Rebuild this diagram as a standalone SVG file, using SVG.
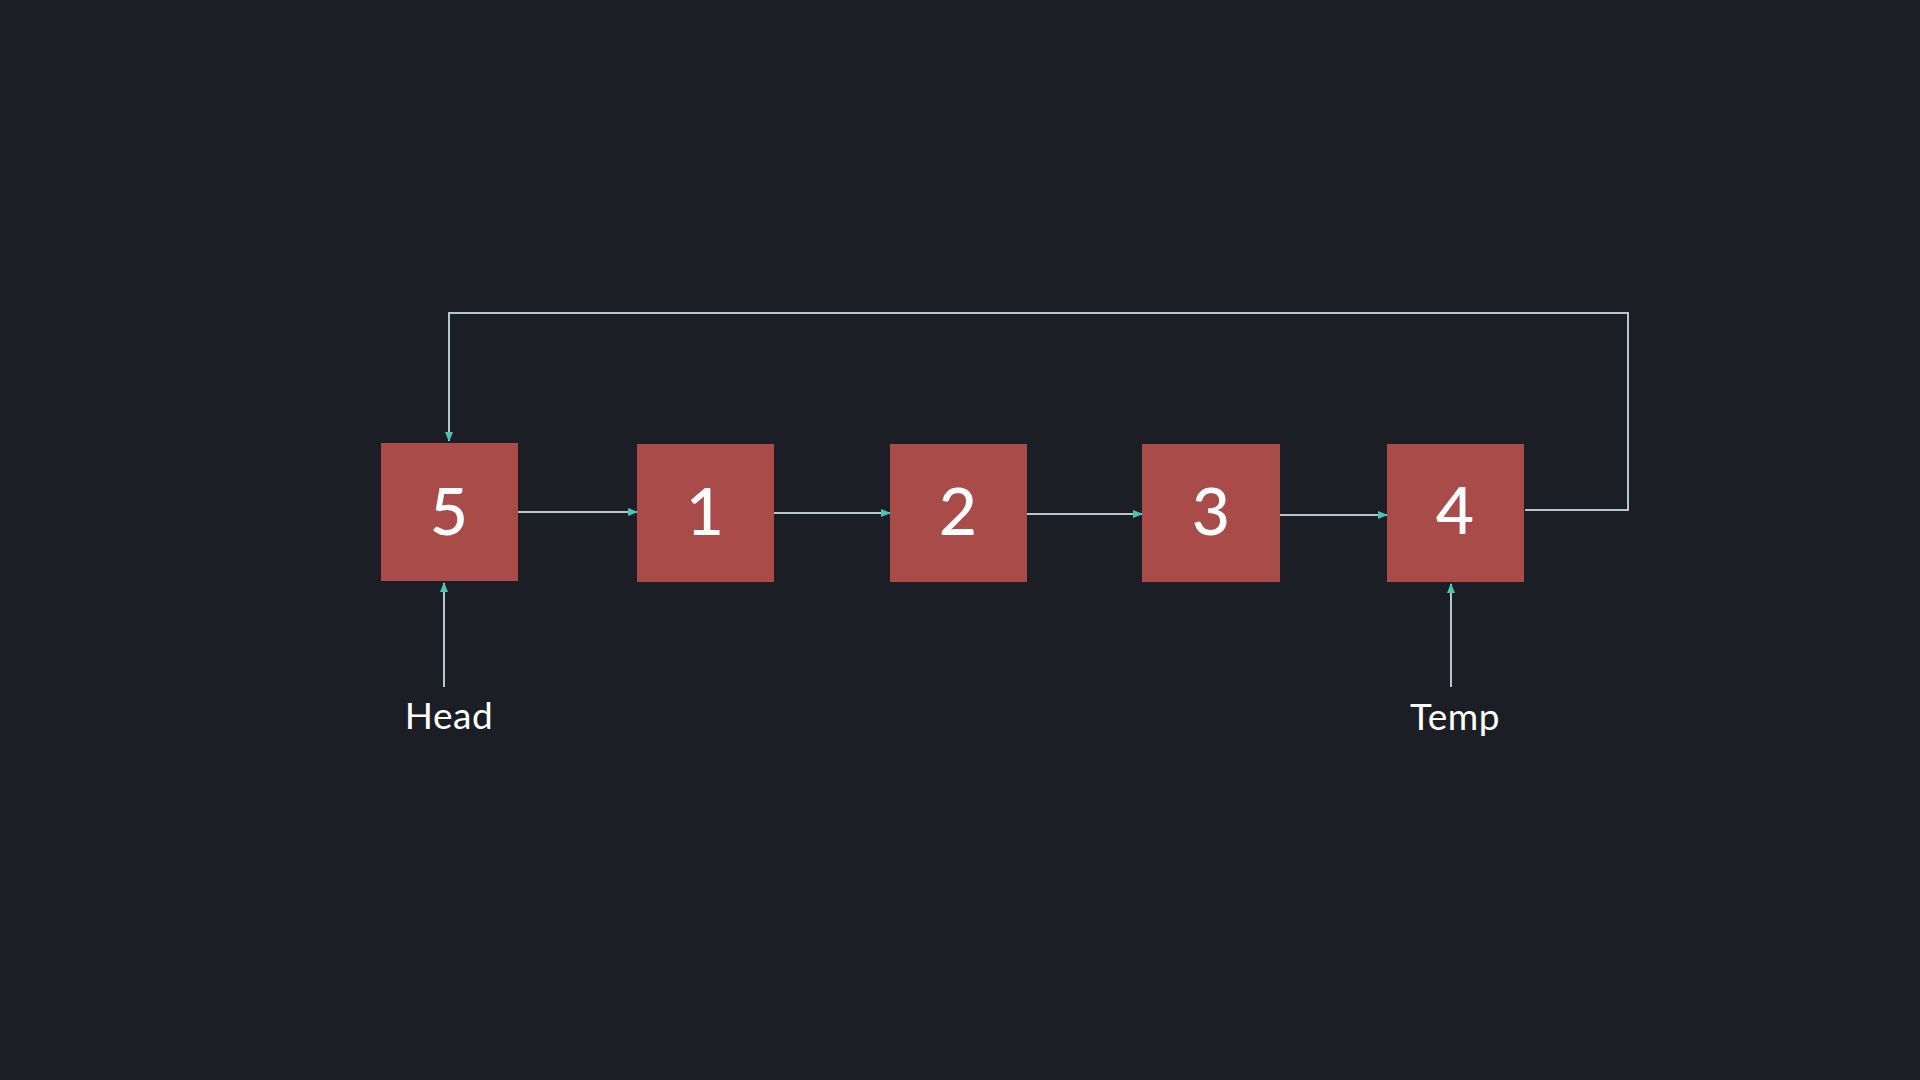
<svg xmlns="http://www.w3.org/2000/svg" width="1920" height="1080" viewBox="0 0 1920 1080">
<defs>
<marker id="arr" markerWidth="10" markerHeight="8" refX="9" refY="4" orient="auto" markerUnits="userSpaceOnUse">
<path d="M0,0 L10,4 L0,8 Z" fill="#4fc1b3"/>
</marker>
<style>
.box{fill:#a94c49;}
.num{font-family:Lato,"Open Sans",sans-serif;font-size:66px;fill:#ffffff;text-anchor:middle;font-weight:500;}
.lbl{font-family:Lato,"Open Sans",sans-serif;font-size:37px;fill:#ffffff;text-anchor:middle;letter-spacing:0.5px;}
.ln{fill:none;stroke:#b4c8cb;stroke-width:2;}
</style>
</defs>
<rect width="1920" height="1080" fill="#1c1e25"/>
<g id="connectors">
<path class="ln" d="M1525,510 H1628 V313 H449 V441" marker-end="url(#arr)"/>
<path class="ln" d="M518,512 H637" marker-end="url(#arr)"/>
<path class="ln" d="M774,513 H890" marker-end="url(#arr)"/>
<path class="ln" d="M1027,514 H1142" marker-end="url(#arr)"/>
<path class="ln" d="M1280,515 H1387" marker-end="url(#arr)"/>
<path class="ln" d="M444,687 V583" marker-end="url(#arr)"/>
<path class="ln" d="M1451,687 V584" marker-end="url(#arr)"/>
</g>
<g id="node5"><rect class="box" x="381" y="443" width="137" height="138"/><text class="num" x="449" y="535">5</text></g>
<g id="node1"><rect class="box" x="637" y="444" width="137" height="138"/><text class="num" x="705" y="535">1</text></g>
<g id="node2"><rect class="box" x="890" y="444" width="137" height="138"/><text class="num" x="958" y="535">2</text></g>
<g id="node3"><rect class="box" x="1142" y="444" width="138" height="138"/><text class="num" x="1211" y="535">3</text></g>
<g id="node4"><rect class="box" x="1387" y="444" width="137" height="138"/><text class="num" x="1455" y="534">4</text></g>
<g id="head"><text class="lbl" x="449" y="729">Head</text></g>
<g id="temp"><text class="lbl" x="1455" y="730">Temp</text></g>
</svg>
